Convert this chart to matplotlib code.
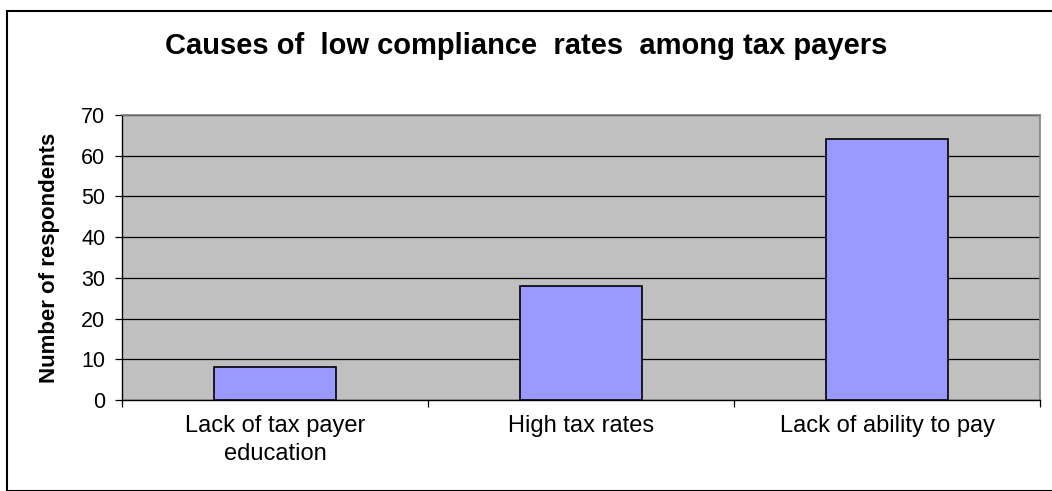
import matplotlib
matplotlib.use("Agg")
import matplotlib.pyplot as plt
from matplotlib.patches import Rectangle

categories = ["Lack of tax payer\neducation", "High tax rates", "Lack of ability to pay"]
values = [8, 28, 64]
yticks = [0, 10, 20, 30, 40, 50, 60, 70]
title = "Causes of  low compliance  rates  among tax payers"
ylabel = "Number of respondents"

plt.rcParams['font.family'] = ['Liberation Sans', 'DejaVu Sans']

W, H = 1052, 491
fig = plt.figure(figsize=(W / 100, H / 100), dpi=100)
fig.patch.set_facecolor("white")

# outer chart border
fig.add_artist(Rectangle((7 / W, 0), 1, 1 - 11 / H, transform=fig.transFigure,
                         fill=False, edgecolor="black", linewidth=1.5))

ax = fig.add_axes([122 / W, 1 - 400 / H, (1040 - 122) / W, (400 - 115) / H])
ax.set_facecolor("#C0C0C0")
x = list(range(len(categories)))
ax.bar(x, values, width=0.40, color="#9999FF", edgecolor="black", linewidth=1.2, zorder=3)
ax.set_xlim(-0.5, len(categories) - 0.5)
ax.set_ylim(0, 70)
ax.set_yticks(yticks)
ax.set_yticklabels([str(v) for v in yticks], fontsize=15.5)
ax.yaxis.grid(True, color="black", linewidth=0.9, zorder=1)
ax.set_axisbelow(True)

ax.set_xticks(x)
ax.set_xticklabels(categories, fontsize=17, linespacing=1.35)
ax.tick_params(axis="x", length=0, pad=11)
ax.set_xticks([i + 0.5 for i in x[:-1]] + [-0.5, len(categories) - 0.5], minor=True)
ax.tick_params(axis="x", which="minor", length=5, width=0.9, color="black")
ax.tick_params(axis="y", length=5, width=0.9, color="black", pad=7)

for s in ["top", "right"]:
    ax.spines[s].set_color("#808080")
    ax.spines[s].set_linewidth(1.2)
for s in ["left", "bottom"]:
    ax.spines[s].set_color("black")
    ax.spines[s].set_linewidth(1.0)

ax.set_ylabel(ylabel, fontsize=16, fontweight="bold", labelpad=15)
fig.text(526 / W, 1 - 46 / H, title, fontsize=21, fontweight="bold",
         ha="center", va="center")

fig.savefig("out.png", dpi=100)
